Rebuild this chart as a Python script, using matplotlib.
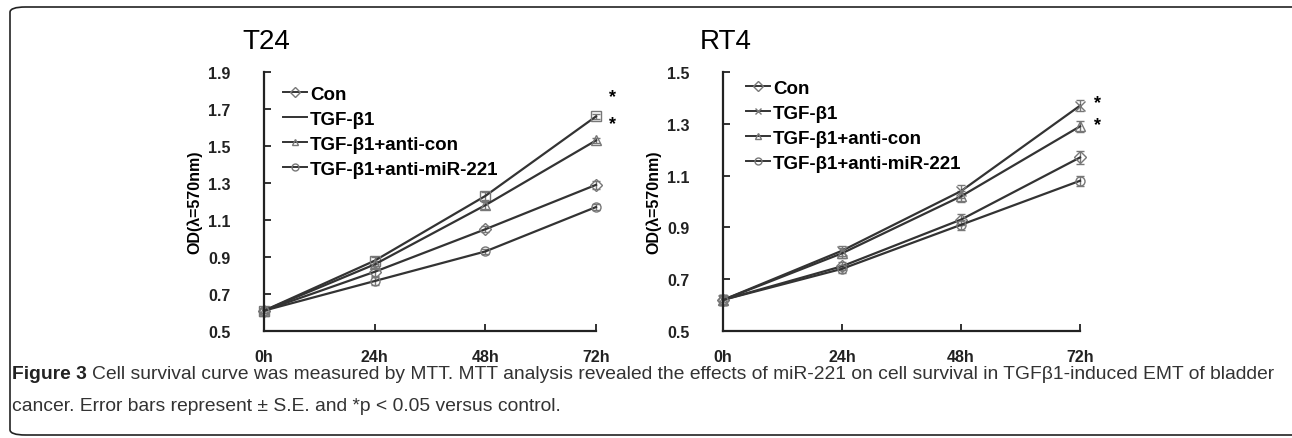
import numpy as np
import matplotlib.pyplot as plt
from matplotlib.lines import Line2D
from matplotlib.patches import FancyBboxPatch

plt.rcParams['font.family'] = ['Liberation Sans', 'DejaVu Sans']

HOURS = [0, 24, 48, 72]
TICK_LABELS = ['0h', '24h', '48h', '72h']
GROUPS = ['Con', 'TGF-β1', 'TGF-β1+anti-con', 'TGF-β1+anti-miR-221']

# T24 cell line
t24_con = [0.61, 0.82, 1.05, 1.29]
t24_tgf = [0.61, 0.88, 1.23, 1.66]
t24_anticon = [0.61, 0.86, 1.18, 1.53]
t24_antimir = [0.61, 0.77, 0.93, 1.17]
t24_err_con = [0.015, 0.02, 0.015, 0.02]
t24_err_tgf = [0.015, 0.02, 0.02, 0.015]
t24_err_anticon = [0.015, 0.02, 0.02, 0.015]
t24_err_antimir = [0.015, 0.02, 0.015, 0.015]
t24_stars = [1.765, 1.62]

# RT4 cell line
rt4_con = [0.62, 0.75, 0.93, 1.17]
rt4_tgf = [0.62, 0.81, 1.04, 1.37]
rt4_anticon = [0.62, 0.80, 1.02, 1.29]
rt4_antimir = [0.62, 0.74, 0.91, 1.08]
rt4_err_con = [0.02, 0.015, 0.02, 0.025]
rt4_err_tgf = [0.02, 0.02, 0.025, 0.02]
rt4_err_anticon = [0.02, 0.02, 0.02, 0.02]
rt4_err_antimir = [0.02, 0.015, 0.02, 0.02]
rt4_stars = [1.38, 1.296]

LINE_C = '#333333'
MARK_C = '#777777'

fig = plt.figure(figsize=(12.92, 4.39), dpi=100)

# rounded frame around figure
frame = FancyBboxPatch((10 / 1292, 3 / 439), 1300 / 1292, 428 / 439,
                       boxstyle='round,pad=0,rounding_size=0.012',
                       transform=fig.transFigure, fill=False,
                       edgecolor='#222222', linewidth=1.2, clip_on=False)
fig.patches.append(frame)


def draw_panel(ax, title, series, errs, markers, ymax, stars,
               legend_markers, leg_anchor):
    for vals, err, mk in zip(series, errs, markers):
        ax.errorbar(HOURS, vals, yerr=err, color=LINE_C, linewidth=1.6,
                    marker=mk, markersize=6.5, markerfacecolor='none',
                    markeredgecolor=MARK_C, markeredgewidth=1.0,
                    ecolor=MARK_C, elinewidth=1.0, capsize=3, clip_on=False)
    for s in stars:
        ax.text(75.5, s, '*', fontsize=13, fontweight='bold',
                ha='center', va='center')
    ax.set_xlim(0, 72)
    ax.set_ylim(0.5, ymax)
    ax.set_yticks(np.arange(0.5, ymax + 0.01, 0.2))
    ax.set_yticklabels([f'{v:.1f}' for v in np.arange(0.5, ymax + 0.01, 0.2)])
    ax.set_xticks(HOURS)
    ax.set_xticklabels(TICK_LABELS)
    ax.spines['top'].set_visible(False)
    ax.spines['right'].set_visible(False)
    for sp in ['left', 'bottom']:
        ax.spines[sp].set_linewidth(1.6)
        ax.spines[sp].set_color('#222222')
    ax.tick_params(axis='both', direction='in', length=5, width=1.3,
                   labelsize=11.5, colors='#222222')
    ax.tick_params(axis='x', pad=13)
    ax.tick_params(axis='y', pad=24)
    for lab in ax.get_xticklabels() + ax.get_yticklabels():
        lab.set_fontweight('bold')
    ax.set_ylabel('OD(λ=570nm)', fontsize=11.5, fontweight='bold', labelpad=4)
    ax.text(-0.065, 1.12, title, transform=ax.transAxes, fontsize=20,
            ha='left', va='center')

    handles = []
    for mk in legend_markers:
        handles.append(Line2D([], [], color=LINE_C, linewidth=1.4, marker=mk,
                              markersize=5, markerfacecolor='none',
                              markeredgecolor=MARK_C))
    ax.legend(handles, GROUPS, loc='upper left',
              bbox_to_anchor=leg_anchor, frameon=False,
              handlelength=1.3, handletextpad=0.15, labelspacing=0.42,
              prop={'size': 13.5, 'weight': 'bold'})


ax1 = fig.add_axes([264 / 1292, 1 - 332 / 439, 332 / 1292, 259 / 439])
draw_panel(ax1, 'T24',
           [t24_con, t24_tgf, t24_anticon, t24_antimir],
           [t24_err_con, t24_err_tgf, t24_err_anticon, t24_err_antimir],
           ['D', 's', '^', 'o'], 1.9, t24_stars,
           ['D', None, '^', 'o'], (0.006, 1.012))

ax2 = fig.add_axes([723 / 1292, 1 - 332 / 439, 357 / 1292, 259 / 439])
draw_panel(ax2, 'RT4',
           [rt4_con, rt4_tgf, rt4_anticon, rt4_antimir],
           [rt4_err_con, rt4_err_tgf, rt4_err_anticon, rt4_err_antimir],
           ['D', 'x', '^', 'o'], 1.5, rt4_stars,
           ['D', 'x', '^', 'o'], (0.017, 1.035))

# caption
cap_size = 13.9
fig_label = fig.text(12 / 1292, 1 - 375 / 439, 'Figure 3', fontsize=cap_size,
                     fontweight='bold', color='#222222', va='center')
renderer = fig.canvas.get_renderer()
bb = fig_label.get_window_extent(renderer)
fig.text((bb.x1 + 5) / 1292, 1 - 375 / 439,
         'Cell survival curve was measured by MTT. MTT analysis revealed the '
         'effects of miR-221 on cell survival in TGFβ1-induced EMT of bladder',
         fontsize=cap_size, color='#333333', va='center')
fig.text(12 / 1292, 1 - 407 / 439,
         'cancer. Error bars represent ± S.E. and *p < 0.05 versus control.',
         fontsize=cap_size, color='#333333', va='center')

fig.savefig('out.png', dpi=100)
